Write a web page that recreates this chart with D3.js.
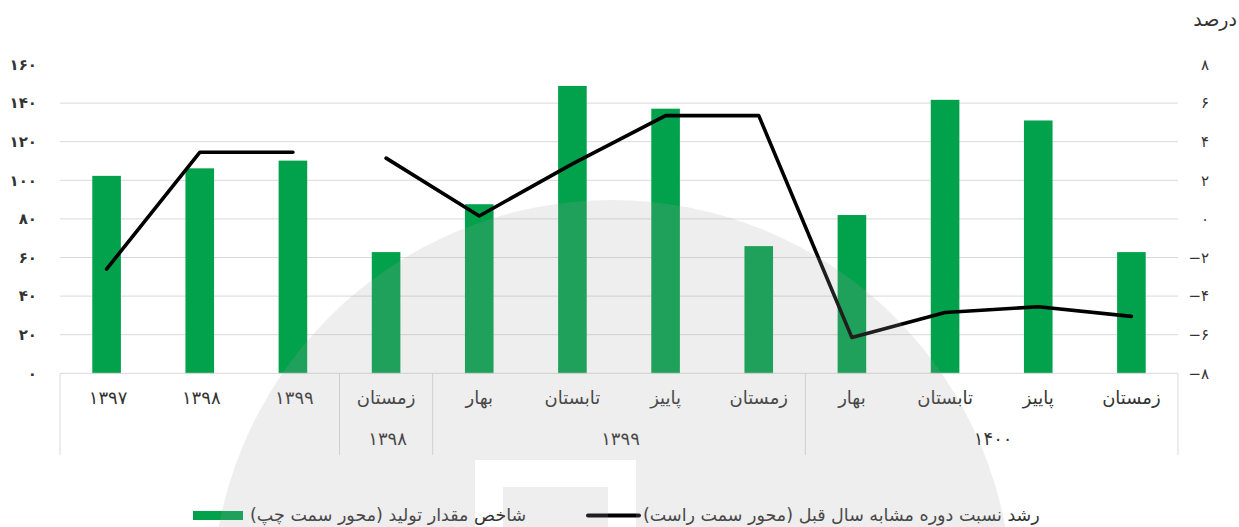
<!DOCTYPE html>
<html>
<head>
<meta charset="utf-8">
<script src="https://cdn.jsdelivr.net/npm/d3@7/dist/d3.min.js"></script>
<style>
  body { margin: 0; background: #fff; }
  svg { display: block; font-family: "DejaVu Sans", sans-serif; }
</style>
</head>
<body>
<div id="chart"></div>
<script>
// categories (quarter names / years), left to right
var categories = ["۱۳۹۷", "۱۳۹۸", "۱۳۹۹", "زمستان", "بهار", "تابستان", "پاییز", "زمستان", "بهار", "تابستان", "پاییز", "زمستان"];
// outer group labels and how many categories each spans
var groupLabels = ["", "۱۳۹۸", "۱۳۹۹", "۱۴۰۰"];
var groupSizes = [3, 1, 4, 4];

// production index (left axis)
var productionIndex = [102.3, 106.2, 110.2, 62.8, 87.6, 148.9, 137.1, 65.9, 82.0, 141.7, 131.0, 62.8];
// growth vs same period last year, percent (right axis)
var growthRate = [-2.6, 3.45, 3.45, 3.15, 0.15, 2.85, 5.35, 5.35, -6.15, -4.85, -4.55, -5.05];

var leftTicks = [0, 20, 40, 60, 80, 100, 120, 140, 160];
var rightTicks = [-8, -6, -4, -2, 0, 2, 4, 6, 8];

var barLabel = "شاخص مقدار تولید (محور سمت چپ)";
var lineLabel = "رشد نسبت دوره مشابه سال قبل (محور سمت راست)";
var rightTitle = "درصد";

// persian digits
function fa(n) {
  var s = String(n).replace("-", "−");
  return s.replace(/[0-9]/g, function(d) { return "۰۱۲۳۴۵۶۷۸۹"[+d]; });
}
function isNum(s) { return /^[۰-۹]+$/.test(s); }

var width = 1239, height = 527;
var plot = {left: 60, right: 1178, top: 64.5, bottom: 373.3};

var svg = d3.select("#chart").append("svg")
    .attr("width", width)
    .attr("height", height);

var x = d3.scaleBand()
    .domain(d3.range(categories.length))
    .range([plot.left, plot.right]);

var y = d3.scaleLinear().domain([0, 160]).range([plot.bottom, plot.top]);
var y2 = d3.scaleLinear().domain([-8, 8]).range([plot.bottom, plot.top]);

// gridlines
svg.append("g")
  .selectAll("line")
  .data(leftTicks.filter(function(d) { return d > 0 && d < 160; }))
  .join("line")
    .attr("x1", plot.left).attr("x2", plot.right)
    .attr("y1", function(d) { return y(d); })
    .attr("y2", function(d) { return y(d); })
    .attr("stroke", "#d9d9d9");

// bars
var barW = x.bandwidth() * 0.307;
svg.append("g")
  .selectAll("rect")
  .data(productionIndex)
  .join("rect")
    .attr("x", function(d, i) { return x(i) + (x.bandwidth() - barW) / 2; })
    .attr("y", function(d) { return y(d); })
    .attr("width", barW)
    .attr("height", function(d) { return y(0) - y(d); })
    .attr("fill", "#02a14b");

// x axis line
svg.append("line")
    .attr("x1", plot.left).attr("x2", plot.right)
    .attr("y1", y(0)).attr("y2", y(0))
    .attr("stroke", "#d9d9d9");

// line: annual part and quarterly part drawn separately
var line = d3.line()
    .x(function(d) { return x(d.i) + x.bandwidth() / 2; })
    .y(function(d) { return y2(d.v); });

var pts = growthRate.map(function(v, i) { return {i: i, v: v}; });
var segs = [pts.slice(0, groupSizes[0]), pts.slice(groupSizes[0])];

svg.append("g")
  .selectAll("path")
  .data(segs)
  .join("path")
    .attr("d", line)
    .attr("fill", "none")
    .attr("stroke", "#000")
    .attr("stroke-width", 3.6)
    .attr("stroke-linejoin", "round")
    .attr("stroke-linecap", "round");

// left axis
svg.append("g")
    .attr("transform", "translate(" + (plot.left - 23) + ",0)")
    .call(d3.axisLeft(y).tickValues(leftTicks).tickSize(0).tickPadding(0).tickFormat(fa))
    .call(function(g) { g.select(".domain").remove(); })
    .selectAll("text")
      .attr("font-size", 15)
      .attr("font-weight", "bold")
      .attr("letter-spacing", 0.5)
      .attr("font-family", "DejaVu Sans")
      .attr("fill", "#333");

// right axis
svg.append("g")
    .attr("transform", "translate(" + (plot.right + 31) + ",0)")
    .call(d3.axisRight(y2).tickValues(rightTicks).tickSize(0).tickPadding(0).tickFormat(fa))
    .call(function(g) { g.select(".domain").remove(); })
    .selectAll("text")
      .attr("text-anchor", "end")
      .attr("font-size", 15)
      .attr("font-family", "DejaVu Sans")
      .attr("fill", "#333");

svg.append("text")
    .attr("x", 1237).attr("y", 26)
    .attr("text-anchor", "end")
    .attr("font-size", 19)
    .attr("fill", "#333")
    .text(rightTitle);

// category labels
svg.append("g")
  .selectAll("text")
  .data(categories)
  .join("text")
    .attr("x", function(d, i) { return x(i) + x.bandwidth() / 2 + (isNum(d) ? 1.5 : 0); })
    .attr("y", 404)
    .attr("text-anchor", "middle")
    .attr("direction", "rtl")
    .attr("font-size", 18)
    .attr("letter-spacing", function(d) { return isNum(d) ? 3 : 0; })
    .attr("fill", "#333")
    .text(function(d) { return d; });

// group separators and labels
var bounds = [0];
groupSizes.forEach(function(n) { bounds.push(bounds[bounds.length - 1] + n); });
function bx(b) { return b < categories.length ? x(b) : plot.right; }

svg.append("g")
  .selectAll("line")
  .data(bounds)
  .join("line")
    .attr("x1", bx)
    .attr("x2", bx)
    .attr("y1", y(0)).attr("y2", 455)
    .attr("stroke", "#d9d9d9");

svg.append("g")
  .selectAll("text")
  .data(groupLabels)
  .join("text")
    .attr("x", function(d, k) { return (bx(bounds[k]) + bx(bounds[k + 1])) / 2 + 1.5; })
    .attr("y", 445)
    .attr("text-anchor", "middle")
    .attr("font-size", 18)
    .attr("letter-spacing", 3)
    .attr("fill", "#333")
    .text(function(d) { return d; });

// legend
var lg = svg.append("g");
lg.append("rect")
    .attr("x", 193).attr("y", 511).attr("width", 50).attr("height", 9)
    .attr("fill", "#02a14b");
var t1 = lg.append("text")
    .attr("y", 521)
    .attr("text-anchor", "middle")
    .attr("direction", "rtl")
    .attr("font-size", 17.5)
    .attr("fill", "#333")
    .text(barLabel);
t1.attr("x", 250 + t1.node().getComputedTextLength() / 2);

lg.append("line")
    .attr("x1", 588).attr("x2", 639).attr("y1", 515.5).attr("y2", 515.5)
    .attr("stroke", "#000").attr("stroke-width", 4).attr("stroke-linecap", "round");
var t2 = lg.append("text")
    .attr("y", 521)
    .attr("text-anchor", "middle")
    .attr("direction", "rtl")
    .attr("font-size", 17.5)
    .attr("fill", "#333")
    .text(lineLabel);
t2.attr("x", 643 + t2.node().getComputedTextLength() / 2);

// watermark: translucent disc with a square cut-out
var wm = d3.path();
wm.arc(612, 600, 400, 0, 2 * Math.PI);
wm.closePath();
wm.rect(475, 460, 161, 80);
wm.rect(503, 487, 105, 60);
svg.append("path")
    .attr("d", wm.toString())
    .attr("fill-rule", "evenodd")
    .attr("fill", "rgb(165,165,165)")
    .attr("fill-opacity", 0.19)
    .attr("pointer-events", "none");
</script>
</body>
</html>
